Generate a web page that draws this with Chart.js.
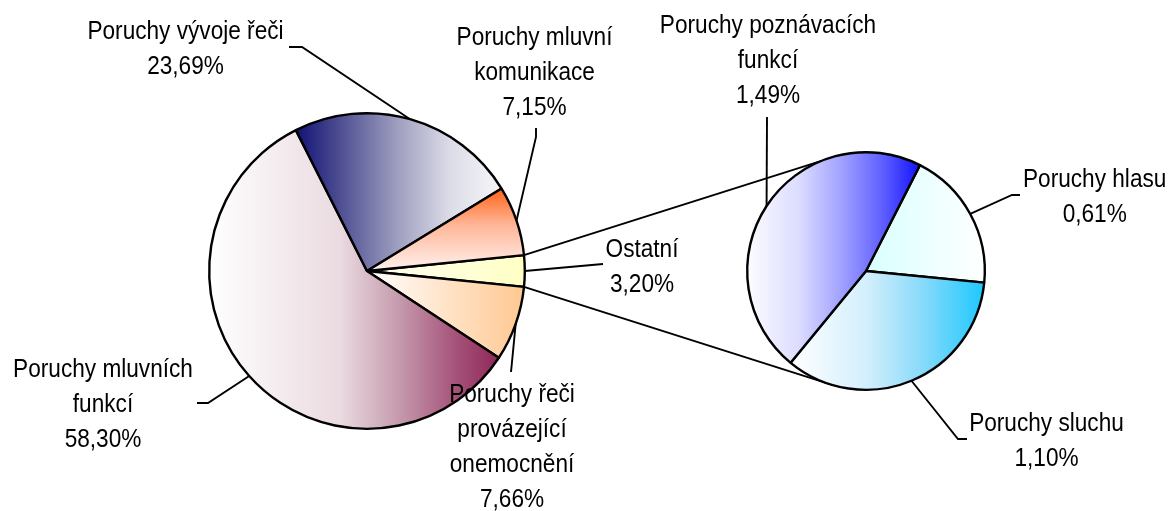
<!DOCTYPE html>
<html>
<head>
<meta charset="utf-8">
<script src="https://cdn.jsdelivr.net/npm/chart.js@4.4.0/dist/chart.umd.min.js"></script>
<style>
html,body{margin:0;padding:0;background:#fff;overflow:hidden}
#wrap{position:relative;width:1170px;height:511px;background:#fff}
canvas{position:absolute;left:0;top:0}
</style>
</head>
<body>
<div id="wrap">
<canvas id="c1" width="1170" height="511"></canvas>
<canvas id="c2" width="1170" height="511"></canvas>
</div>
<script>
// ---- data ----
const mainCategories = ['Ostatní', 'Poruchy řeči provázející onemocnění', 'Poruchy mluvních funkcí', 'Poruchy vývoje řeči', 'Poruchy mluvní komunikace'];
const mainValues = [3.20, 7.66, 58.30, 23.69, 7.15];
const subCategories = ['Poruchy hlasu', 'Poruchy sluchu', 'Poruchy poznávacích funkcí'];
const subValues = [0.61, 1.10, 1.49];

// ---- styles ----
const mainLines = [['Ostatní'], ['Poruchy řeči', 'provázející', 'onemocnění'], ['Poruchy mluvních', 'funkcí'], ['Poruchy vývoje řeči'], ['Poruchy mluvní', 'komunikace']];
const subLines = [['Poruchy hlasu'], ['Poruchy sluchu'], ['Poruchy poznávacích', 'funkcí']];
const mainLabelPos = [[642, 256.7], [512, 401.7], [103, 376.7], [185.5, 38.5], [534.5, 45]];
const subLabelPos = [[1094.7, 187.3], [1046.5, 430.7], [768, 32.7]];
const mainLeaders = [[[603, 264]], [[511, 372]], [[208, 403], [197, 403]], [[302, 47], [289, 47]], [[536, 137], [536, 128]]];
const subLeaders = [[[1012, 195], [1020, 195]], [[958, 439], [967, 439]], [[767, 117]]];

const mainGrad = [
  {dir: 'h', stops: [[0, '#fffff4'], [1, '#ffffc4']]},
  {dir: 'h', stops: [[0, '#ffffff'], [1, '#ffc892']]},
  {dir: 'h', stops: [[0, '#ffffff'], [0.45, '#eadbe1'], [0.65, '#c69cae'], [0.85, '#a5537a'], [1, '#902858']]},
  {dir: 'h', stops: [[0, '#121276'], [0.2, '#4a4a90'], [0.5, '#a0a0c0'], [0.75, '#dcdce8'], [1, '#f6f6f8']]},
  {dir: 'v', stops: [[0, '#ff6418'], [0.45, '#ffb79a'], [1, '#fff2ee']]}
];
const subGrad = [
  {dir: 'h', stops: [[0, '#d8ffff'], [1, '#ffffff']]},
  {dir: 'h', stops: [[0, '#ffffff'], [0.4, '#d2eefc'], [0.7, '#82d9fa'], [1, '#1cc8ff']]},
  {dir: 'h', stops: [[0, '#fcfcff'], [0.3, '#dcdcff'], [0.55, '#a0a0ff'], [0.8, '#5a5aff'], [1, '#1212ff']]}
];

const BORDER = 2.4;
const LEADER_W = 1.9;
const MAIN_ROT = 84.24;
const SUB_ROT = 27;
const FONT_PX = 26;
const SCALE_X = 0.87;
const LINE_H = 35;

function fmt(v) { return v.toFixed(2).replace('.', ',') + '%'; }

function sliceGeom(chart, values, rot, i) {
  const a = chart.chartArea;
  const cx = (a.left + a.right) / 2, cy = (a.top + a.bottom) / 2;
  const r = (Math.min(a.right - a.left, a.bottom - a.top) - BORDER) / 2;
  const total = values.reduce((s, v) => s + v, 0);
  let start = (rot - 90) * Math.PI / 180;
  for (let k = 0; k < i; k++) start += values[k] / total * 2 * Math.PI;
  const end = start + values[i] / total * 2 * Math.PI;
  const pts = [[cx, cy], [cx + r * Math.cos(start), cy + r * Math.sin(start)], [cx + r * Math.cos(end), cy + r * Math.sin(end)]];
  for (let q = -8; q <= 8; q++) {
    const ang = q * Math.PI / 2;
    if (ang > start && ang < end) pts.push([cx + r * Math.cos(ang), cy + r * Math.sin(ang)]);
  }
  const xs = pts.map(p => p[0]), ys = pts.map(p => p[1]);
  return {x0: Math.min(...xs), x1: Math.max(...xs), y0: Math.min(...ys), y1: Math.max(...ys)};
}

function gradFn(values, rot, specs) {
  return function (ctx) {
    const chart = ctx.chart;
    const spec = specs[ctx.dataIndex];
    if (!chart.chartArea) return spec.stops[spec.stops.length - 1][1];
    const g = sliceGeom(chart, values, rot, ctx.dataIndex);
    const lg = spec.dir === 'h'
      ? chart.ctx.createLinearGradient(g.x0, 0, g.x1, 0)
      : chart.ctx.createLinearGradient(0, g.y0, 0, g.y1);
    spec.stops.forEach(s => lg.addColorStop(s[0], s[1]));
    return lg;
  };
}

function drawText(ctx, lines, cx, by) {
  ctx.save();
  ctx.fillStyle = '#000';
  ctx.font = FONT_PX + 'px "Liberation Sans", Arial, sans-serif';
  ctx.textAlign = 'center';
  ctx.textBaseline = 'alphabetic';
  lines.forEach((ln, k) => {
    ctx.save();
    ctx.translate(cx, by + k * LINE_H);
    ctx.scale(SCALE_X, 1);
    ctx.fillText(ln, 0, 0);
    ctx.restore();
  });
  ctx.restore();
}

function labelPlugin(values, lines, pos, leaders) {
  return {
    id: 'lbl',
    afterDatasetsDraw(chart) {
      const ctx = chart.ctx;
      const meta = chart.getDatasetMeta(0);
      meta.data.forEach((arc, i) => {
        const mid = (arc.startAngle + arc.endAngle) / 2;
        const R = arc.outerRadius;
        const ex = arc.x + R * Math.cos(mid), ey = arc.y + R * Math.sin(mid);
        ctx.save();
        ctx.strokeStyle = '#000';
        ctx.lineWidth = LEADER_W;
        ctx.lineJoin = 'miter';
        ctx.beginPath();
        ctx.moveTo(ex, ey);
        leaders[i].forEach(p => ctx.lineTo(p[0], p[1]));
        ctx.stroke();
        ctx.restore();
        drawText(ctx, lines[i].concat([fmt(values[i])]), pos[i][0], pos[i][1]);
      });
    }
  };
}

Chart.defaults.font.family = '"Liberation Sans", Arial, sans-serif';

const common = {
  responsive: false,
  animation: false,
  events: [],
  plugins: {legend: {display: false}, tooltip: {enabled: false}, title: {display: false}}
};

const chart1 = new Chart(document.getElementById('c1'), {
  type: 'pie',
  data: {
    labels: mainCategories,
    datasets: [{
      data: mainValues,
      backgroundColor: gradFn(mainValues, MAIN_ROT, mainGrad),
      borderColor: '#000',
      borderWidth: BORDER,
      hoverOffset: 0,
      offset: 0
    }]
  },
  options: Object.assign({}, common, {
    rotation: MAIN_ROT,
    layout: {padding: {left: 208, right: 644, top: 112, bottom: 81}}
  }),
  plugins: [labelPlugin(mainValues, mainLines, mainLabelPos, mainLeaders)]
});

const connectorPlugin = {
  id: 'conn',
  beforeDatasetsDraw(chart) {
    const m = chart1.getDatasetMeta(0).data[0];
    const s = chart.getDatasetMeta(0).data[0];
    if (!m || !s) return;
    const ctx = chart.ctx;
    const a1 = -112 * Math.PI / 180, a2 = 106.5 * Math.PI / 180;
    ctx.save();
    ctx.strokeStyle = '#000';
    ctx.lineWidth = LEADER_W;
    ctx.beginPath();
    ctx.moveTo(m.x + m.outerRadius * Math.cos(m.startAngle), m.y + m.outerRadius * Math.sin(m.startAngle));
    ctx.lineTo(s.x + s.outerRadius * Math.cos(a1), s.y + s.outerRadius * Math.sin(a1));
    ctx.moveTo(m.x + m.outerRadius * Math.cos(m.endAngle), m.y + m.outerRadius * Math.sin(m.endAngle));
    ctx.lineTo(s.x + s.outerRadius * Math.cos(a2), s.y + s.outerRadius * Math.sin(a2));
    ctx.stroke();
    ctx.restore();
  }
};

const chart2 = new Chart(document.getElementById('c2'), {
  type: 'pie',
  data: {
    labels: subCategories,
    datasets: [{
      data: subValues,
      backgroundColor: gradFn(subValues, SUB_ROT, subGrad),
      borderColor: '#000',
      borderWidth: BORDER,
      hoverOffset: 0,
      offset: 0
    }]
  },
  options: Object.assign({}, common, {
    rotation: SUB_ROT,
    layout: {padding: {left: 746, right: 184, top: 151, bottom: 120}}
  }),
  plugins: [connectorPlugin, labelPlugin(subValues, subLines, subLabelPos, subLeaders)]
});
</script>
</body>
</html>
